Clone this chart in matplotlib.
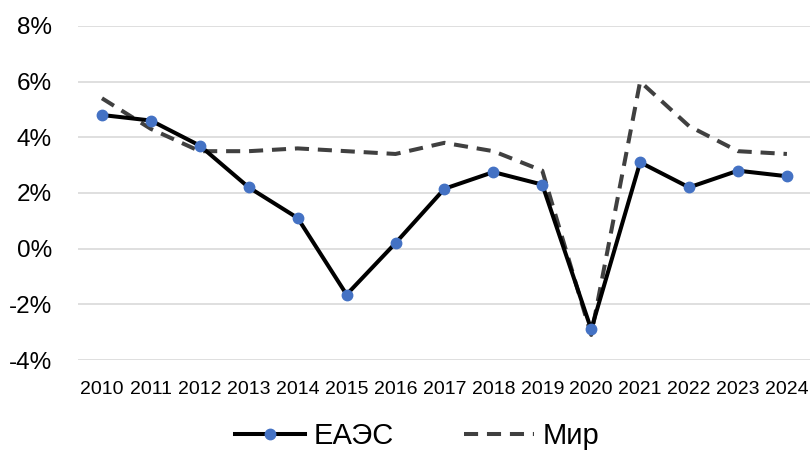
import matplotlib
matplotlib.use('Agg')
from matplotlib import pyplot as plt
from matplotlib.ticker import FuncFormatter

years = [2010, 2011, 2012, 2013, 2014, 2015, 2016, 2017, 2018, 2019, 2020, 2021, 2022, 2023, 2024]
eaes = [4.8, 4.6, 3.7, 2.2, 1.1, -1.65, 0.2, 2.15, 2.75, 2.3, -2.9, 3.1, 2.2, 2.8, 2.6]
world = [5.4, 4.3, 3.5, 3.5, 3.6, 3.5, 3.4, 3.8, 3.5, 2.8, -3.1, 6.0, 4.4, 3.5, 3.4]

plt.rcParams['font.family'] = ['Liberation Sans', 'DejaVu Sans']

fig = plt.figure(figsize=(8.1, 4.54), dpi=100)
ax = fig.add_axes([0.0957, 0.207, 0.906, 0.736])

x = list(range(len(years)))
ax.plot(x, eaes, color='black', linewidth=2.9, marker='o', markersize=7.5,
        markerfacecolor='#4472C4', markeredgecolor='#4472C4', label='ЕАЭС', zorder=3)
ax.plot(x, world, color='#404040', linewidth=2.9, linestyle=(0, (3.5, 2.2)),
        label='Мир', zorder=2)

ax.set_xlim(-0.5, len(years) - 0.5)
ax.set_ylim(-4, 8)
ax.set_yticks(range(-4, 9, 2))
ax.yaxis.set_major_formatter(FuncFormatter(lambda v, p: f'{v:.0f}%'))
ax.set_xticks(x)
ax.set_xticklabels([str(y) for y in years])
ax.tick_params(axis='y', labelsize=17.5, length=0, pad=18.5)
ax.tick_params(axis='x', labelsize=14, length=0, pad=15)
ax.grid(axis='y', color='#d9d9d9', linewidth=1.2)
ax.set_axisbelow(True)
for s in ax.spines.values():
    s.set_visible(False)

fig.legend(loc='lower center', bbox_to_anchor=(0.515, -0.05), ncol=2, frameon=False,
           fontsize=21, handlelength=2.4, columnspacing=2.4, handletextpad=0.3)

fig.savefig('out.png', dpi=100)
